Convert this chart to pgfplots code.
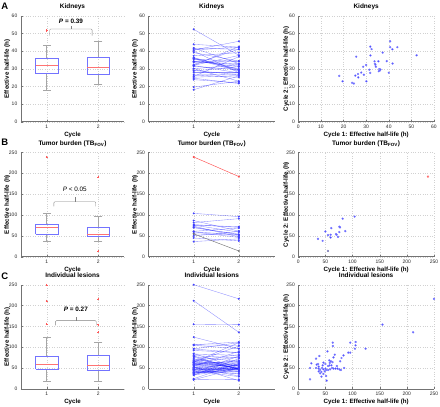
\documentclass[border=0pt]{standalone}
\usepackage{fontspec}
\setmainfont{Liberation Sans}
\usepackage{pgfplots}
\pgfplotsset{compat=1.18}
\usepackage{pgfplotstable}

\definecolor{mblue}{rgb}{0,0,1}
\definecolor{mred}{rgb}{1,0,0}

% Kidneys: cycle 1, cycle 2 effective half-life (h)
\pgfplotstableread{
c1 c2
18.1 25.9
19.6 22.9
23.8 22.0
24.6 21.6
25.2 26.1
25.6 36.8
26.4 27.0
26.5 25.1
27.8 27.8
28.7 31.1
29.0 26.6
30.0 32.1
30.1 22.9
31.4 29.4
31.8 27.6
31.9 37.5
31.8 42.5
32.4 41.1
33.7 34.2
33.9 32.8
34.1 32.2
34.3 31.1
35.4 34.2
35.6 28.6
35.8 29.8
36.1 29.0
36.3 29.5
37.3 39.1
39.1 34.3
40.0 27.7
40.6 45.5
40.6 42.2
41.6 41.0
41.7 32.9
43.8 42.2
52.3 37.6
}\kid

% Tumor burden (without the two highlighted patients)
\pgfplotstableread{
c1 c2
36.2 42.7
44.8 37.9
49.8 60.5
54.7 51.6
59.6 52.4
59.6 46.0
60.8 68.5
69.4 54.0
70.6 52.4
73.1 47.6
75.6 71.8
76.8 70.2
75.6 58.9
81.7 91.1
86.6 61.3
103.8 96.0
}\tb

% Individual lesions
\pgfplotstableread{
c1 c2
250.0 216.0
155.0 154.0
211.5 135.5
63.6 110.7
63.6 102.6
95.6 110.7
105.5 112.3
105.5 104.3
124.0 96.2
104.3 96.2
92.0 86.6
95.6 86.6
53.7 89.8
83.3 80.2
67.3 81.8
79.6 73.8
77.1 65.8
38.9 78.6
32.7 72.2
64.8 75.4
24.0 61.0
21.6 49.8
21.6 22.6
57.0 68.0
60.0 66.0
63.0 64.0
58.0 62.0
46.3 62.6
50.0 59.4
33.9 57.8
37.6 53.0
37.6 48.2
40.1 45.0
32.7 49.8
43.8 49.8
46.3 46.6
42.6 40.2
50.0 48.2
51.2 45.0
55.0 45.0
58.6 46.6
62.3 49.8
64.8 48.2
68.5 48.2
72.2 48.2
75.9 46.6
78.4 45.0
84.5 49.8
71.0 54.6
55.0 54.6
57.4 56.2
61.0 56.2
40.1 37.0
46.3 35.4
42.6 29.0
51.2 30.6
48.8 41.8
52.4 19.4
37.6 41.8
45.0 56.0
36.4 59.3
}\les

\tikzset{ptxt/.style={font=\fontsize{6.4}{7.5}\selectfont}}

\pgfplotsset{
  base/.style={
    scale only axis,
    axis x line*=bottom, axis y line*=left,
    axis line style={black!55,-},
    grid=major, grid style={dotted, black!18, line width=0.25pt},
    tick style={black!55, line width=0.3pt},
    major tick length=1.8bp,
    tick align=inside,
    ticklabel style={font=\fontsize{5}{6}\selectfont, text=black!85},
    /pgf/number format/assume math mode=true,
    title style={font=\fontsize{6.5}{7.5}\selectfont\bfseries, at={(axis description cs:0.5,1)}, anchor=base, yshift=1.2bp},
    every axis x label/.style={at={(axis description cs:0.5,0)}, anchor=center, yshift=-13bp, font=\fontsize{6.2}{7}\selectfont\bfseries},
    clip=false,
  },
  ylab/.style={every axis y label/.style={at={(axis description cs:#1,0.5)}, rotate=90, anchor=center, font=\fontsize{6.2}{7}\selectfont\bfseries}},
  boxax/.style={base, width=103.4bp, xmin=0.5, xmax=2.5, xtick={1,2}, xlabel={Cycle}, ylabel={Effective half-life (h)}, ylab=-0.1306},
  lineax/.style={base, width=126.5bp, xmin=0, xmax=2.8, xtick={1,2}, xlabel={Cycle}, ylabel={Effective half-life (h)}, ylab=-0.107},
  scax/.style={base, width=135.7bp, xlabel={Cycle 1: Effective half-life (h)}, ylabel={Cycle 2: Effective half-life (h)}, ylab=-0.088},
  boxst/.style={mblue!55, line width=0.4pt, no markers},
  medst/.style={mred!55, line width=0.45pt, no markers},
  whst/.style={black!35, line width=0.35pt, mark=-, mark size=4bp, mark indices={2}},
  outst/.style={only marks, mark=+, mark size=1.1bp, mark options={mred!65, line width=0.35pt}},
  pairline/.style={mblue, opacity=0.45, line width=0.35pt, no markers},
  pairmark/.style={only marks, mark=*, mark size=0.75bp, mblue, mark options={draw=mblue!70, fill=mblue}},
  scmark/.style={only marks, mark=*, mark size=0.95bp, mark options={draw=mblue!45, fill=mblue!85}},
}

% box: {left}{centre}{right}{lower whisker}{Q1}{median}{Q3}{upper whisker}
\newcommand{\mybox}[8]{%
  \addplot[whst] coordinates {(#2,#7) (#2,#8)};
  \addplot[whst] coordinates {(#2,#5) (#2,#4)};
  \addplot[boxst] coordinates {(#1,#5) (#3,#5) (#3,#7) (#1,#7) (#1,#5)};
  \addplot[medst] coordinates {(#1,#6) (#3,#6)};
}

\begin{document}
\begin{tikzpicture}
\useasboundingbox (0,0) rectangle (440bp,407bp);

% ---------------- Row A : Kidneys ----------------
\begin{axis}[boxax, at={(20.8bp,285.3bp)}, anchor=south west, height=106bp,
  ymin=0, ymax=60, ytick={0,10,...,60}, title={Kidneys}]
\mybox{0.785}{1}{1.215}{17.8}{27.2}{31.9}{36.0}{43.4}
\mybox{1.785}{2}{2.215}{21.3}{27.0}{30.6}{36.4}{45.3}
\addplot[outst] coordinates {(1,51.6)};
\draw[black!50, line width=0.4pt, rounded corners=1bp] (axis cs:1.06,48.7) |- (axis cs:1.88,52.5) -- (axis cs:1.88,48.7);
\draw[black!50, line width=0.4pt] (axis cs:1.47,52.5) -- (axis cs:1.47,54.3);
\node[ptxt, anchor=base] at (axis cs:1.47,55.6) {\textbf{\textit{P} = 0.39}};
\end{axis}

\begin{axis}[lineax, at={(148.5bp,285.3bp)}, anchor=south west, height=106bp,
  ymin=0, ymax=60, ytick={0,10,...,60}, title={Kidneys}]
\addplot[pairline, quiver={u=1, v=\thisrow{c2}-\thisrow{c1}}] table[x expr=1, y=c1] {\kid};
\addplot[pairmark] table[x expr=1, y=c1] {\kid};
\addplot[pairmark] table[x expr=2, y=c2] {\kid};
\end{axis}

\begin{axis}[scax, at={(298.3bp,285.3bp)}, anchor=south west, height=106bp,
  xmin=0, xmax=60, ymin=0, ymax=60, xtick={0,10,...,60}, ytick={0,10,...,60}, title={Kidneys}]
\addplot[scmark] table[x=c1, y=c2] {\kid};
\end{axis}

% ---------------- Row B : Tumor burden ----------------
\begin{axis}[boxax, at={(20.8bp,150.3bp)}, anchor=south west, height=104.4bp,
  ymin=0, ymax=250, ytick={0,50,...,250}, title={Tumor burden (TB\textsubscript{FOV})}]
\mybox{0.785}{1}{1.215}{36}{55}{70}{77.5}{103.5}
\mybox{1.785}{2}{2.215}{37.5}{50}{55}{71}{96.5}
\addplot[outst] coordinates {(1,239) (2,191.5) (2,13.6)};
\draw[black!50, line width=0.4pt, rounded corners=1bp] (axis cs:1.14,120.7) |- (axis cs:1.95,131.7) -- (axis cs:1.95,120.7);
\draw[black!50, line width=0.4pt] (axis cs:1.545,131.7) -- (axis cs:1.545,143.7);
\node[ptxt, anchor=base] at (axis cs:1.545,155) {\textit{P} < 0.05};
\end{axis}

\begin{axis}[lineax, at={(148.5bp,150.3bp)}, anchor=south west, height=104.4bp,
  ymin=0, ymax=250, ytick={0,50,...,250}, title={Tumor burden (TB\textsubscript{FOV})}]
\addplot[pairline, quiver={u=1, v=\thisrow{c2}-\thisrow{c1}}] table[x expr=1, y=c1] {\tb};
\addplot[pairmark] table[x expr=1, y=c1] {\tb};
\addplot[pairmark] table[x expr=2, y=c2] {\tb};
\addplot[mred!70, line width=0.45pt, mark=*, mark size=0.75bp] coordinates {(1,238.9) (2,191.9)};
\addplot[black!55, line width=0.45pt, mark=*, mark size=0.75bp] coordinates {(1,54.7) (2,13.7)};
\end{axis}

\begin{axis}[scax, at={(298.3bp,150.3bp)}, anchor=south west, height=104.4bp,
  xmin=0, xmax=250, ymin=0, ymax=250, xtick={0,50,...,250}, ytick={0,50,...,250}, title={Tumor burden (TB\textsubscript{FOV})}]
\addplot[scmark] table[x=c1, y=c2] {\tb};
\addplot[only marks, mark=*, mark size=0.95bp, mark options={draw=mred!45, fill=mred!85}] coordinates {(238.9,191.9)};
\addplot[only marks, mark=*, mark size=0.95bp, mark options={draw=mblue!40!black!40, fill=mblue!50!black}] coordinates {(54.7,13.7)};
\end{axis}

% ---------------- Row C : Individual lesions ----------------
\begin{axis}[boxax, at={(20.8bp,18.3bp)}, anchor=south west, height=104bp,
  ymin=0, ymax=250, ytick={0,50,...,250}, title={Individual lesions}]
\mybox{0.785}{1}{1.215}{19}{46.5}{59}{78}{123.5}
\mybox{1.785}{2}{2.215}{18}{44.5}{55.5}{80}{112}
\addplot[outst] coordinates {(1,155.4) (1,211.5) (1,250) (2,136) (2,154) (2,216)};
\draw[black!50, line width=0.4pt, rounded corners=1bp] (axis cs:1.17,152.4) |- (axis cs:1.96,163.5) -- (axis cs:1.96,152.4);
\draw[black!50, line width=0.4pt] (axis cs:1.565,163.5) -- (axis cs:1.565,173);
\node[ptxt, anchor=base] at (axis cs:1.565,186) {\textbf{\textit{P} = 0.27}};
\end{axis}

\begin{axis}[lineax, at={(148.5bp,18.3bp)}, anchor=south west, height=104bp,
  ymin=0, ymax=250, ytick={0,50,...,250}, title={Individual lesions}]
\addplot[pairline, quiver={u=1, v=\thisrow{c2}-\thisrow{c1}}] table[x expr=1, y=c1] {\les};
\addplot[pairmark] table[x expr=1, y=c1] {\les};
\addplot[pairmark] table[x expr=2, y=c2] {\les};
\end{axis}

\begin{axis}[scax, at={(298.3bp,18.3bp)}, anchor=south west, height=104bp,
  xmin=0, xmax=250, ymin=0, ymax=250, xtick={0,50,...,250}, ytick={0,50,...,250}, title={Individual lesions}]
\addplot[scmark] table[x=c1, y=c2] {\les};
\end{axis}

% panel letters
\node[font=\fontsize{9.5}{11}\selectfont\bfseries, anchor=base west, inner sep=0pt] at (1.2bp,397.8bp) {A};
\node[font=\fontsize{9.5}{11}\selectfont\bfseries, anchor=base west, inner sep=0pt] at (1.2bp,261.5bp) {B};
\node[font=\fontsize{9.5}{11}\selectfont\bfseries, anchor=base west, inner sep=0pt] at (1.2bp,127.3bp) {C};
\end{tikzpicture}
\end{document}
